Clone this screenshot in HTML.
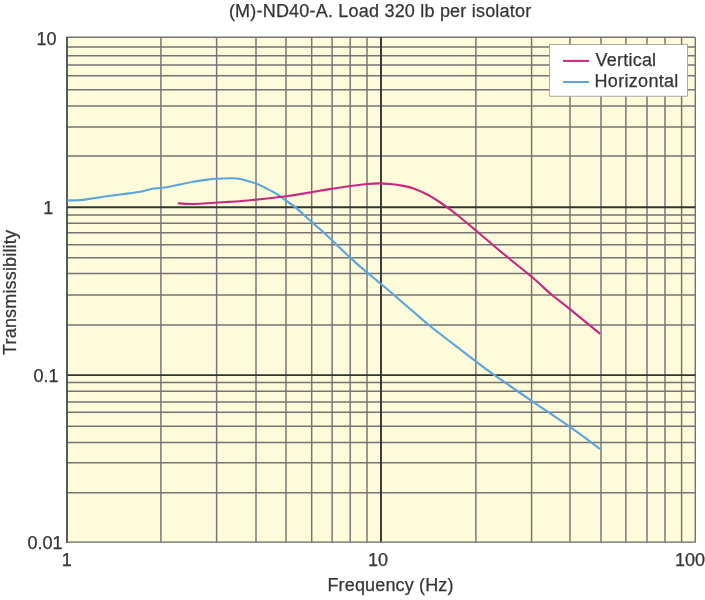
<!DOCTYPE html>
<html><head><meta charset="utf-8"><title>Transmissibility</title>
<style>html,body{margin:0;padding:0;background:#fff}svg{display:block}text{font-family:"Liberation Sans",sans-serif;font-size:18px;fill:#353535;stroke:#353535;stroke-width:0.25px}</style></head><body>
<svg width="705" height="600" viewBox="0 0 705 600">
<rect x="0" y="0" width="705" height="600" fill="#ffffff"/>
<rect x="67" y="37.3" width="628.3" height="504.9" fill="#fefbdb"/>
<g stroke="#747474" stroke-width="1.45" fill="none">
<line x1="67" y1="46.9" x2="695.3" y2="46.9"/>
<line x1="67" y1="55.65" x2="695.3" y2="55.65"/>
<line x1="67" y1="65" x2="695.3" y2="65"/>
<line x1="67" y1="75.7" x2="695.3" y2="75.7"/>
<line x1="67" y1="89.7" x2="695.3" y2="89.7"/>
<line x1="67" y1="106" x2="695.3" y2="106"/>
<line x1="67" y1="126.9" x2="695.3" y2="126.9"/>
<line x1="67" y1="155.9" x2="695.3" y2="155.9"/>
<line x1="67" y1="214.9" x2="695.3" y2="214.9"/>
<line x1="67" y1="223.2" x2="695.3" y2="223.2"/>
<line x1="67" y1="232.8" x2="695.3" y2="232.8"/>
<line x1="67" y1="244.8" x2="695.3" y2="244.8"/>
<line x1="67" y1="257.8" x2="695.3" y2="257.8"/>
<line x1="67" y1="273.5" x2="695.3" y2="273.5"/>
<line x1="67" y1="295" x2="695.3" y2="295"/>
<line x1="67" y1="325" x2="695.3" y2="325"/>
<line x1="67" y1="382.5" x2="695.3" y2="382.5"/>
<line x1="67" y1="391.3" x2="695.3" y2="391.3"/>
<line x1="67" y1="402" x2="695.3" y2="402"/>
<line x1="67" y1="412.3" x2="695.3" y2="412.3"/>
<line x1="67" y1="426.3" x2="695.3" y2="426.3"/>
<line x1="67" y1="442.5" x2="695.3" y2="442.5"/>
<line x1="67" y1="462.7" x2="695.3" y2="462.7"/>
<line x1="67" y1="492.8" x2="695.3" y2="492.8"/>
<line x1="160.9" y1="37.3" x2="160.9" y2="542.2"/>
<line x1="216.6" y1="37.3" x2="216.6" y2="542.2"/>
<line x1="256" y1="37.3" x2="256" y2="542.2"/>
<line x1="286" y1="37.3" x2="286" y2="542.2"/>
<line x1="311.7" y1="37.3" x2="311.7" y2="542.2"/>
<line x1="332.1" y1="37.3" x2="332.1" y2="542.2"/>
<line x1="350.2" y1="37.3" x2="350.2" y2="542.2"/>
<line x1="367" y1="37.3" x2="367" y2="542.2"/>
<line x1="475.9" y1="37.3" x2="475.9" y2="542.2"/>
<line x1="531.6" y1="37.3" x2="531.6" y2="542.2"/>
<line x1="570" y1="37.3" x2="570" y2="542.2"/>
<line x1="601" y1="37.3" x2="601" y2="542.2"/>
<line x1="625.9" y1="37.3" x2="625.9" y2="542.2"/>
<line x1="647" y1="37.3" x2="647" y2="542.2"/>
<line x1="665" y1="37.3" x2="665" y2="542.2"/>
<line x1="681.6" y1="37.3" x2="681.6" y2="542.2"/>
<line x1="67" y1="37.3" x2="695.3" y2="37.3"/>
<line x1="695.3" y1="37.3" x2="695.3" y2="542.2"/>
</g>
<g stroke="#343434" stroke-width="1.9" fill="none">
<line x1="67" y1="207.2" x2="695.3" y2="207.2"/>
<line x1="67" y1="375.15" x2="695.3" y2="375.15"/>
<line x1="381" y1="37.3" x2="381" y2="542.2"/>
</g>
<g stroke="#484848" stroke-width="1.8" fill="none">
<line x1="67" y1="36.8" x2="67" y2="543"/>
</g>
<line x1="67" y1="542.2" x2="695.8" y2="542.2" stroke="#666666" stroke-width="1.2"/>
<path d="M67.3 200.5 C69.3 200.4 76.0 200.3 79.2 200.1 C82.4 199.9 82.8 199.9 86.3 199.4 C89.8 198.9 95.8 197.9 100.5 197.2 C105.2 196.5 109.9 195.8 114.6 195.2 C119.3 194.6 124.5 194.0 128.8 193.4 C133.1 192.8 136.6 192.4 140.2 191.7 C143.8 191.0 147.3 189.8 150.1 189.2 C152.9 188.6 154.7 188.5 157.2 188.2 C159.7 187.9 161.3 188.1 165.0 187.5 C168.7 186.9 174.5 185.6 179.2 184.6 C183.9 183.6 188.7 182.5 193.4 181.7 C198.1 180.9 203.7 180.1 207.6 179.6 C211.5 179.1 212.8 179.0 216.8 178.8 C220.8 178.6 227.6 178.2 231.7 178.3 C235.8 178.4 238.5 178.6 241.6 179.2 C244.7 179.8 247.5 180.9 250.1 181.7 C252.7 182.5 254.7 183.1 257.2 184.1 C259.7 185.1 261.7 186.0 265.0 187.7 C268.3 189.4 273.3 191.8 276.9 194.1 C280.5 196.3 283.5 198.8 286.8 201.2 C290.1 203.6 292.7 205.0 296.7 208.3 C300.7 211.7 306.2 217.1 310.9 221.3 C315.6 225.6 320.4 229.5 325.1 233.8 C329.8 238.1 334.0 242.3 339.3 247.3 C344.6 252.3 349.7 257.4 356.7 263.6 C363.7 269.8 371.9 276.3 381.4 284.3 C390.9 292.3 405.4 304.9 413.5 311.8 C421.6 318.8 422.5 320.0 430.0 326.0 C437.5 332.0 450.7 342.1 458.4 348.0 C466.1 353.9 470.3 357.2 476.2 361.6 C482.1 366.1 484.6 368.2 493.8 374.7 C503.0 381.2 518.9 392.1 531.6 400.8 C544.3 409.5 558.5 418.9 569.9 426.9 C581.3 434.9 595.2 445.3 600.2 449.0" fill="none" stroke="#5ba4de" stroke-width="2.15" stroke-linecap="butt" stroke-linejoin="round"/>
<path d="M177.8 203.3 C179.0 203.4 182.4 203.8 185.0 203.9 C187.6 204.0 189.6 204.1 193.4 204.0 C197.2 203.9 202.9 203.6 207.6 203.3 C212.3 203.0 217.0 202.6 221.7 202.3 C226.4 202.0 231.2 201.8 235.9 201.5 C240.6 201.2 245.2 200.6 250.1 200.2 C254.9 199.8 259.0 199.5 265.0 198.8 C271.0 198.1 280.3 197.0 286.1 196.2 C291.9 195.4 294.4 195.0 300.0 194.1 C305.6 193.2 312.4 192.0 319.9 190.8 C327.4 189.6 337.3 187.8 344.8 186.7 C352.3 185.6 359.0 184.8 364.8 184.2 C370.6 183.6 375.6 183.3 379.8 183.3 C384.0 183.3 386.8 183.7 390.0 184.0 C393.2 184.3 395.4 184.5 399.3 185.2 C403.2 185.9 408.8 186.8 413.5 188.4 C418.2 190.0 423.0 192.2 427.7 194.7 C432.4 197.2 437.1 200.3 441.8 203.5 C446.5 206.7 450.3 209.4 456.0 214.0 C461.7 218.6 468.7 224.5 476.2 230.8 C483.7 237.1 491.7 244.0 500.9 251.7 C510.1 259.4 523.1 269.6 531.6 276.8 C540.1 284.0 545.6 289.6 552.0 295.0 C558.4 300.4 561.9 302.7 569.9 309.2 C577.9 315.7 595.2 329.8 600.2 333.9" fill="none" stroke="#c72881" stroke-width="2.15" stroke-linecap="butt" stroke-linejoin="round"/>
<rect x="549.4" y="44.5" width="138" height="51.7" fill="#ffffff" stroke="#959595" stroke-width="0.8"/>
<line x1="563" y1="60.9" x2="589" y2="60.9" stroke="#c72881" stroke-width="2"/>
<line x1="563" y1="82" x2="589" y2="82" stroke="#5ba4de" stroke-width="2"/>
<text x="595.6" y="65.6" textLength="60.5" lengthAdjust="spacing">Vertical</text>
<text x="594.5" y="86.8" textLength="83.85" lengthAdjust="spacing">Horizontal</text>
<text x="228.9" y="16.9" textLength="302.3" lengthAdjust="spacing">(M)-ND40-A. Load 320 lb per isolator</text>
<text x="36.5" y="45.2">10</text>
<text x="43.2" y="213.9">1</text>
<text x="33.5" y="382">0.1</text>
<text x="27.5" y="549.2">0.01</text>
<text x="61.7" y="565.8">1</text>
<text x="368" y="565.6">10</text>
<text x="675" y="565.7">100</text>
<text x="327.4" y="591.2" textLength="126.1" lengthAdjust="spacing">Frequency (Hz)</text>
<text transform="translate(16.3 354.9) rotate(-90)" textLength="124.85" lengthAdjust="spacing">Transmissibility</text>
</svg></body></html>
